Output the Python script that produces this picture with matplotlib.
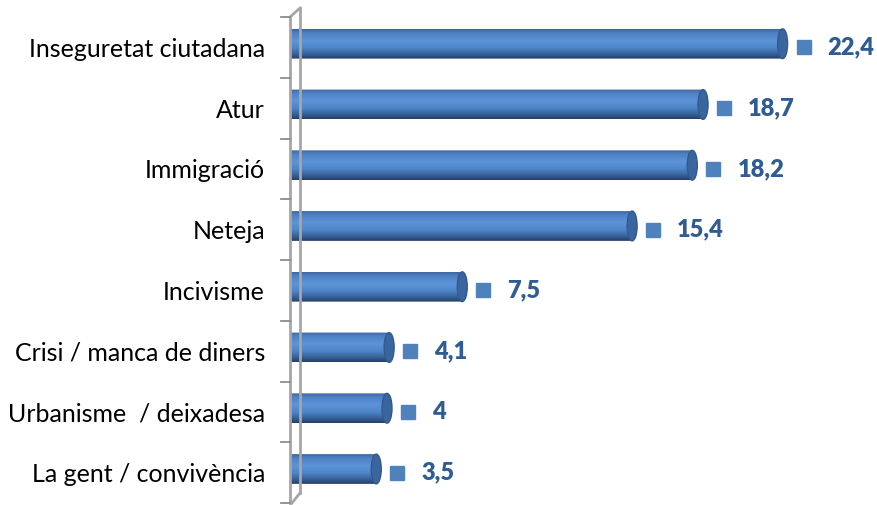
import numpy as np
import matplotlib
matplotlib.use("Agg")
import matplotlib.pyplot as plt
from matplotlib.colors import LinearSegmentedColormap
from matplotlib.patches import FancyBboxPatch, Ellipse
from matplotlib.lines import Line2D

categories = ["Inseguretat ciutadana", "Atur", "Immigració", "Neteja", "Incivisme",
              "Crisi / manca de diners", "Urbanisme  / deixadesa", "La gent / convivència"]
values = [22.4, 18.7, 18.2, 15.4, 7.5, 4.1, 4.0, 3.5]
value_labels = ["22,4", "18,7", "18,2", "15,4", "7,5", "4,1", "4", "3,5"]

W, H = 878, 505
fig = plt.figure(figsize=(W / 100, H / 100), dpi=100)

def fx(x):
    return x / W

def fy(y):
    return 1 - y / H

# axes: left at the front wall (290px), zero at 301px, boundaries y=17..503
ax_left_px, x0_px, top_px, bot_px = 290, 301, 17, 503
px_per_unit = 21.5
ax = fig.add_axes([fx(ax_left_px), fy(bot_px), (W - ax_left_px) / W, (bot_px - top_px) / H])
left_x = -(x0_px - ax_left_px) / px_per_unit
ax.set_xlim(left_x, (W - x0_px) / px_per_unit)
n = len(categories)
ax.set_ylim(n - 0.5, -0.5)
for s in ax.spines.values():
    s.set_visible(False)
ax.set_xticks([])
ax.set_yticks(range(n))
ax.set_yticklabels(categories, fontsize=18, family=["Lato", "DejaVu Sans"], color="#000000")
ax.tick_params(axis="y", length=0, pad=18)

bar_h = 0.49
offset = -0.06
cap_w = 10 / px_per_unit

cmap = LinearSegmentedColormap.from_list("cyl", [
    (0.0, "#3C67A0"), (0.12, "#4E80C2"), (0.38, "#5C94D8"), (0.62, "#5087CA"),
    (0.85, "#365F97"), (1.0, "#243F66")])
grad = np.linspace(0, 1, 100).reshape(-1, 1)

for i, v in enumerate(values):
    yc = i + offset
    y_top = yc - bar_h / 2
    clip = FancyBboxPatch((left_x, y_top), v - left_x, bar_h,
                          boxstyle="round,pad=0,rounding_size=0.1",
                          transform=ax.transData,
                          facecolor="none", edgecolor="none")
    ax.add_patch(clip)
    im = ax.imshow(grad, cmap=cmap, aspect="auto",
                   extent=(left_x, v, yc + bar_h / 2, y_top),
                   interpolation="bilinear", zorder=2)
    im.set_clip_path(clip)
    # end cap
    cap = Ellipse((v, yc), cap_w, bar_h, facecolor="#3A669F",
                  edgecolor="#33598C", lw=1.0, zorder=3, clip_on=False)
    ax.add_patch(cap)
    # value marker & label
    ax.plot([v + 21 / px_per_unit], [i], marker="s", markersize=9.8,
            color="#4F81BD", zorder=4, clip_on=False)
    ax.text(v + 45 / px_per_unit, i, value_labels[i], fontsize=17,
            fontweight="heavy", family=["Lato", "DejaVu Sans"], color="#2F5C92",
            va="center", ha="left", zorder=4)

ax.set_xlim(left_x, (W - x0_px) / px_per_unit)
ax.set_ylim(n - 0.5, -0.5)

# 3D wall lines (decoration)
wall_col = "#A6A6A6"
lines = [
    ((290, 17), (290, 503)),
    ((300, 8), (300, 493)),
    ((290, 17), (300, 8)),
    ((300, 493), (292, 503)),
]
for (xa, ya), (xb, yb) in lines:
    fig.add_artist(Line2D([fx(xa), fx(xb)], [fy(ya), fy(yb)], color=wall_col,
                          lw=2.0, transform=fig.transFigure, zorder=1))
spacing = (bot_px - top_px) / n
for k in range(n + 1):
    yy = top_px + k * spacing
    fig.add_artist(Line2D([fx(281), fx(290)], [fy(yy), fy(yy)], color="#8C8C8C",
                          lw=1.3, transform=fig.transFigure, zorder=1))

fig.savefig("out.png", dpi=100)
